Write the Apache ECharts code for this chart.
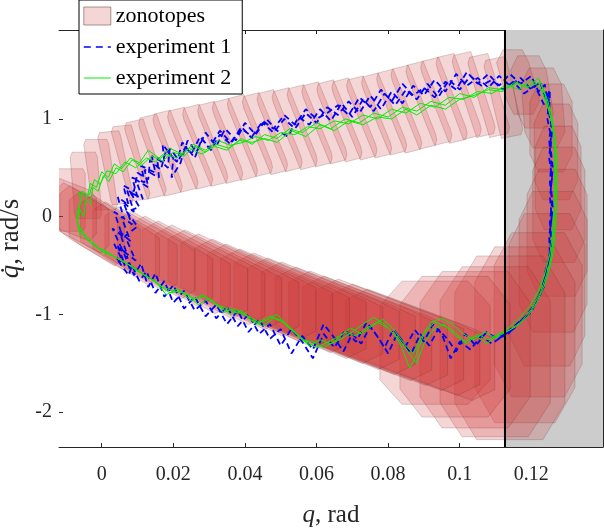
<!DOCTYPE html>
<html><head><meta charset="utf-8">
<script src="https://cdn.jsdelivr.net/npm/echarts@6/dist/echarts.min.js"></script>
<style>html,body{margin:0;padding:0;background:#fff}#c{width:604px;height:528px}</style>
</head><body><div id="c"></div>
<script>
// ---- axis ticks and limits ----
const xTicks = [0, 0.02, 0.04, 0.06, 0.08, 0.1, 0.12];
const yTicks = [-2, -1, 0, 1];
const xRange = [-0.01193, 0.14003];
const yRange = [-2.357, 1.910];
const limitQ = 0.11265;

// ---- zonotopes: center (q, dq), half-width w, half-height h, shear s, tilt t, corner k ----
// upper branch
const zonoQ_up  = [-0.0086,-0.0044,-0.0003,0.0039,0.0081,0.0122,0.0164,0.0206,0.0247,0.0289,0.0331,0.0372,0.0414,0.0456,0.0497,0.0539,0.0581,0.0622,0.0664,0.0706,0.0747,0.0789,0.0831,0.0872,0.0914,0.0956,0.0997,0.1039,0.1081,0.1122];
const zonoDq_up = [0.17,0.32,0.43,0.50,0.55,0.59,0.63,0.67,0.70,0.73,0.76,0.79,0.83,0.85,0.88,0.90,0.93,0.96,0.98,1.00,1.02,1.05,1.08,1.12,1.16,1.19,1.23,1.25,1.24,1.22];
const zonoW_up  = [0.0040,0.0038,0.0035,0.0032,0.0030,0.0028,0.0027,0.0026,0.0025,0.0025,0.0025,0.0025,0.0025,0.0025,0.0025,0.0025,0.0025,0.0025,0.0025,0.0025,0.0025,0.0025,0.0025,0.0026,0.0026,0.0027,0.0027,0.0028,0.0030,0.0032];
const zonoH_up  = [0.32,0.34,0.36,0.37,0.38,0.39,0.40,0.40,0.40,0.40,0.40,0.40,0.40,0.40,0.40,0.40,0.40,0.40,0.40,0.40,0.40,0.40,0.41,0.41,0.41,0.42,0.42,0.42,0.41,0.40];
const zonoS_up  = [0,-0.0006,-0.0012,-0.0018,-0.0024,-0.0030,-0.0034,-0.0037,-0.0038,-0.0038,-0.0038,-0.0038,-0.0038,-0.0038,-0.0038,-0.0038,-0.0038,-0.0038,-0.0038,-0.0038,-0.0038,-0.0038,-0.0038,-0.0038,-0.0038,-0.0038,-0.0036,-0.0032,-0.0028,-0.0022];
const zonoT_up  = [0,0,0,0.01,0.01,0.02,0.02,0.02,0.02,0.02,0.02,0.02,0.02,0.02,0.02,0.02,0.02,0.02,0.02,0.02,0.02,0.02,0.02,0.02,0.02,0.02,0.02,0.02,0.02,0.02];
const zonoK_up  = [0.15,0.15,0.15,0.15,0.15,0.15,0.15,0.15,0.15,0.15,0.15,0.15,0.15,0.15,0.15,0.15,0.15,0.15,0.15,0.15,0.15,0.15,0.15,0.15,0.15,0.15,0.15,0.15,0.15,0.15];
// right turn
const zonoQ_rt  = [0.1163,0.1202,0.1233,0.1255,0.1269,0.1275,0.1277,0.1272,0.1261,0.1244,0.1219,0.1182,0.1140];
const zonoDq_rt = [1.378,1.276,1.112,0.908,0.663,0.397,0.121,-0.165,-0.462,-0.749,-1.004,-1.209,-1.342];
const zonoW_rt  = [0.0045,0.0050,0.0056,0.0059,0.0061,0.0064,0.0073,0.0084,0.0095,0.0106,0.0123,0.0140,0.0154];
const zonoH_rt  = [0.33,0.37,0.41,0.45,0.49,0.53,0.59,0.65,0.72,0.78,0.84,0.90,0.94];
const zonoS_rt  = [-0.0015,-0.0010,-0.0005,0,0,0,0,0,0,0,0,0,0];
const zonoT_rt  = [0,0,0,0,0,0,0,0,0,0,0,0,0];
const zonoK_rt  = [0.4,0.4,0.4,0.4,0.4,0.4,0.4,0.4,0.4,0.4,0.4,0.4,0.4];
// lower branch
const zonoQ_lo  = [0.1099,0.1043,0.0987,0.0931,0.0889,0.0847,0.0805,0.0763,0.0722,0.0680,0.0638,0.0596,0.0554,0.0512,0.0470,0.0428,0.0386,0.0344,0.0303,0.0261,0.0219,0.0177,0.0135,0.0093,0.0051,0.0009,-0.0027,-0.0055,-0.0075];
const zonoDq_lo = [-1.382,-1.362,-1.331,-1.290,-1.311,-1.260,-1.209,-1.168,-1.117,-1.066,-1.014,-0.963,-0.912,-0.861,-0.810,-0.749,-0.697,-0.646,-0.595,-0.544,-0.493,-0.432,-0.370,-0.309,-0.237,-0.166,-0.094,-0.012,0.070];
const zonoW_lo  = [0.0154,0.0154,0.0154,0.0154,0.0209,0.0209,0.0206,0.0203,0.0200,0.0196,0.0193,0.0189,0.0185,0.0180,0.0175,0.0170,0.0165,0.0159,0.0153,0.0147,0.0140,0.0133,0.0126,0.0118,0.0110,0.0100,0.0090,0.0075,0.0060];
const zonoH_lo  = [0.87,0.80,0.72,0.63,0.37,0.37,0.37,0.36,0.36,0.35,0.35,0.34,0.34,0.33,0.33,0.32,0.32,0.31,0.31,0.30,0.30,0.29,0.29,0.28,0.28,0.27,0.27,0.26,0.26];
const zonoS_lo  = [0,0,0,0,0,0,0,0,0,0,0,0,0,0,0,0,0,0,0,0,0,0,0,0,0,0,0,0,0];
const zonoT_lo  = [0,0,0,0,-0.20,-0.20,-0.20,-0.20,-0.20,-0.20,-0.20,-0.20,-0.20,-0.20,-0.20,-0.20,-0.20,-0.20,-0.20,-0.20,-0.20,-0.20,-0.18,-0.18,-0.18,-0.15,-0.14,-0.10,-0.06];
const zonoK_lo  = [0.4,0.4,0.4,0.4,0.3,0.3,0.3,0.3,0.3,0.3,0.3,0.3,0.3,0.3,0.3,0.3,0.3,0.3,0.3,0.3,0.3,0.3,0.3,0.3,0.3,0.3,0.3,0.3,0.3];

// ---- experiment 2 (green), three loops ----
const exp2LoopA = [[-0.0060,-0.20],[-0.0068,-0.05],[-0.0062,0.08],[-0.0050,0.00],[-0.0045,0.18],[-0.0030,0.12],[-0.0025,0.30],[-0.0010,0.26],[0.0005,0.42],[0.0020,0.36],[0.0040,0.50],[0.0060,0.46],[0.0085,0.58],[0.0110,0.52],[0.0140,0.62],[0.0170,0.57],[0.0200,0.66],[0.0230,0.62],[0.0260,0.72],[0.0290,0.66],[0.0320,0.74],[0.0355,0.70],[0.0390,0.80],[0.0420,0.74],[0.0455,0.84],[0.0490,0.80],[0.0525,0.90],[0.0560,0.86],[0.0600,0.96],[0.0640,0.90],[0.0680,1.00],[0.0720,0.96],[0.0760,1.06],[0.0800,1.02],[0.0840,1.12],[0.0880,1.08],[0.0920,1.18],[0.0960,1.14],[0.1000,1.26],[0.1040,1.22],[0.1080,1.32],[0.1120,1.30],[0.1160,1.36],[0.1195,1.33],[0.1225,1.38],[0.1245,1.20],[0.1258,1.02],[0.1265,0.80],[0.1268,0.55],[0.1267,0.30],[0.1265,0.05],[0.1262,-0.20],[0.1255,-0.42],[0.1242,-0.60],[0.1225,-0.78],[0.1200,-0.95],[0.1170,-1.08],[0.1140,-1.16],[0.1110,-1.20],[0.1080,-1.26],[0.1050,-1.20],[0.1020,-1.30],[0.0990,-1.22],[0.0960,-1.12],[0.0930,-1.08],[0.0900,-1.20],[0.0875,-1.45],[0.0860,-1.55],[0.0840,-1.35],[0.0820,-1.22],[0.0790,-1.10],[0.0760,-1.03],[0.0730,-1.10],[0.0700,-1.18],[0.0670,-1.25],[0.0640,-1.30],[0.0610,-1.26],[0.0580,-1.32],[0.0550,-1.22],[0.0520,-1.12],[0.0490,-1.00],[0.0460,-1.06],[0.0430,-1.10],[0.0400,-1.00],[0.0370,-0.94],[0.0340,-0.98],[0.0310,-0.86],[0.0280,-0.80],[0.0250,-0.86],[0.0220,-0.76],[0.0190,-0.78],[0.0160,-0.70],[0.0130,-0.62],[0.0100,-0.56],[0.0070,-0.48],[0.0040,-0.42],[0.0010,-0.35],[-0.0020,-0.30],[-0.0045,-0.22],[-0.0065,-0.10]];
const exp2LoopB = [[-0.0070,0.02],[-0.0058,0.16],[-0.0064,0.25],[-0.0040,0.20],[-0.0032,0.34],[-0.0015,0.30],[0.0000,0.46],[0.0018,0.40],[0.0035,0.54],[0.0055,0.49],[0.0080,0.60],[0.0105,0.55],[0.0130,0.68],[0.0160,0.60],[0.0190,0.70],[0.0225,0.64],[0.0255,0.74],[0.0290,0.68],[0.0325,0.78],[0.0360,0.73],[0.0395,0.76],[0.0430,0.82],[0.0465,0.78],[0.0500,0.86],[0.0540,0.84],[0.0575,0.92],[0.0610,0.90],[0.0650,0.98],[0.0690,0.95],[0.0730,1.04],[0.0770,1.00],[0.0810,1.10],[0.0850,1.06],[0.0890,1.16],[0.0930,1.12],[0.0970,1.22],[0.1010,1.20],[0.1050,1.28],[0.1090,1.26],[0.1130,1.35],[0.1165,1.30],[0.1200,1.40],[0.1228,1.30],[0.1248,1.10],[0.1262,0.90],[0.1270,0.65],[0.1272,0.40],[0.1270,0.15],[0.1268,-0.10],[0.1262,-0.35],[0.1250,-0.55],[0.1235,-0.72],[0.1215,-0.88],[0.1190,-1.02],[0.1160,-1.12],[0.1130,-1.18],[0.1100,-1.24],[0.1070,-1.18],[0.1040,-1.26],[0.1010,-1.20],[0.0980,-1.10],[0.0950,-1.04],[0.0920,-1.08],[0.0895,-1.22],[0.0870,-1.40],[0.0845,-1.30],[0.0815,-1.15],[0.0785,-1.05],[0.0755,-1.12],[0.0725,-1.20],[0.0695,-1.14],[0.0665,-1.22],[0.0635,-1.28],[0.0600,-1.34],[0.0570,-1.28],[0.0540,-1.18],[0.0510,-1.08],[0.0480,-1.04],[0.0450,-1.12],[0.0420,-1.06],[0.0390,-0.96],[0.0360,-1.00],[0.0330,-0.92],[0.0300,-0.84],[0.0270,-0.90],[0.0240,-0.80],[0.0210,-0.74],[0.0180,-0.80],[0.0150,-0.66],[0.0120,-0.60],[0.0090,-0.52],[0.0060,-0.46],[0.0030,-0.40],[0.0000,-0.36],[-0.0025,-0.26],[-0.0050,-0.18],[-0.0068,-0.06]];
const exp2LoopC = [[-0.0062,0.10],[-0.0055,0.26],[-0.0035,0.22],[-0.0020,0.38],[-0.0005,0.33],[0.0015,0.47],[0.0040,0.44],[0.0065,0.56],[0.0095,0.50],[0.0125,0.60],[0.0150,0.56],[0.0180,0.64],[0.0210,0.60],[0.0245,0.70],[0.0280,0.64],[0.0315,0.72],[0.0350,0.68],[0.0385,0.78],[0.0420,0.76],[0.0455,0.80],[0.0490,0.76],[0.0530,0.88],[0.0570,0.82],[0.0610,0.94],[0.0650,0.88],[0.0690,0.98],[0.0730,0.94],[0.0770,1.02],[0.0810,1.00],[0.0850,1.10],[0.0880,1.04],[0.0920,1.14],[0.0960,1.10],[0.1000,1.20],[0.1040,1.24],[0.1080,1.30],[0.1120,1.28],[0.1155,1.38],[0.1190,1.32],[0.1220,1.42],[0.1238,1.25],[0.1252,1.05],[0.1262,0.85],[0.1266,0.60],[0.1266,0.35],[0.1264,0.10],[0.1260,-0.15],[0.1252,-0.38],[0.1238,-0.58],[0.1220,-0.76],[0.1195,-0.92],[0.1165,-1.05],[0.1135,-1.14],[0.1105,-1.22],[0.1075,-1.30],[0.1045,-1.22],[0.1015,-1.28],[0.0985,-1.18],[0.0955,-1.10],[0.0925,-1.16],[0.0900,-1.30],[0.0880,-1.50],[0.0855,-1.38],[0.0830,-1.25],[0.0800,-1.14],[0.0770,-1.08],[0.0740,-1.14],[0.0710,-1.22],[0.0680,-1.18],[0.0650,-1.28],[0.0620,-1.34],[0.0590,-1.28],[0.0560,-1.26],[0.0530,-1.16],[0.0500,-1.06],[0.0470,-1.02],[0.0440,-1.08],[0.0410,-1.02],[0.0380,-0.98],[0.0350,-0.94],[0.0320,-0.90],[0.0290,-0.82],[0.0260,-0.84],[0.0230,-0.78],[0.0200,-0.76],[0.0170,-0.72],[0.0140,-0.64],[0.0110,-0.58],[0.0080,-0.50],[0.0050,-0.44],[0.0020,-0.38],[-0.0010,-0.32],[-0.0040,-0.24],[-0.0060,-0.14]];

// ---- experiment 1 (blue dashed), three loops ----
const exp1LoopA = [[0.0060,-0.45],[0.0045,-0.30],[0.0070,-0.38],[0.0050,-0.15],[0.0080,-0.25],[0.0055,0.00],[0.0085,-0.08],[0.0060,0.15],[0.0090,0.05],[0.0070,0.28],[0.0100,0.20],[0.0085,0.40],[0.0120,0.35],[0.0110,0.52],[0.0150,0.45],[0.0140,0.62],[0.0175,0.55],[0.0170,0.74],[0.0200,0.60],[0.0195,0.40],[0.0220,0.55],[0.0240,0.78],[0.0265,0.66],[0.0290,0.86],[0.0320,0.72],[0.0345,0.90],[0.0375,0.78],[0.0400,0.96],[0.0430,0.84],[0.0460,1.00],[0.0490,0.88],[0.0520,0.82],[0.0550,1.02],[0.0580,0.94],[0.0610,1.10],[0.0640,0.98],[0.0670,1.16],[0.0700,1.02],[0.0730,1.20],[0.0760,1.08],[0.0790,1.26],[0.0820,1.14],[0.0850,1.30],[0.0880,1.20],[0.0910,1.36],[0.0940,1.22],[0.0970,1.40],[0.1000,1.30],[0.1030,1.44],[0.1060,1.34],[0.1090,1.40],[0.1120,1.30],[0.1150,1.38],[0.1180,1.26],[0.1210,1.34],[0.1235,1.15],[0.1250,1.25],[0.1245,1.00],[0.1255,0.82],[0.1250,0.60],[0.1258,0.40],[0.1252,0.20],[0.1257,0.00],[0.1250,-0.20],[0.1252,-0.40],[0.1240,-0.55],[0.1235,-0.72],[0.1215,-0.85],[0.1200,-0.98],[0.1175,-1.05],[0.1150,-1.15],[0.1120,-1.22],[0.1090,-1.30],[0.1060,-1.22],[0.1030,-1.36],[0.1000,-1.28],[0.0975,-1.45],[0.0950,-1.20],[0.0925,-1.10],[0.0900,-1.28],[0.0875,-1.16],[0.0850,-1.32],[0.0825,-1.20],[0.0800,-1.40],[0.0775,-1.25],[0.0750,-1.12],[0.0725,-1.30],[0.0700,-1.20],[0.0675,-1.38],[0.0650,-1.24],[0.0620,-1.10],[0.0590,-1.36],[0.0560,-1.22],[0.0530,-1.40],[0.0500,-1.15],[0.0470,-1.25],[0.0440,-1.05],[0.0410,-1.18],[0.0380,-0.96],[0.0350,-1.10],[0.0320,-0.90],[0.0290,-1.02],[0.0260,-0.82],[0.0230,-0.94],[0.0200,-0.70],[0.0175,-0.82],[0.0150,-0.58],[0.0130,-0.72],[0.0110,-0.48],[0.0090,-0.60],[0.0070,-0.40]];
const exp1LoopB = [[0.0080,-0.55],[0.0060,-0.35],[0.0095,-0.45],[0.0065,-0.20],[0.0100,-0.10],[0.0070,0.05],[0.0105,0.10],[0.0080,0.25],[0.0115,0.18],[0.0095,0.38],[0.0130,0.30],[0.0120,0.48],[0.0160,0.40],[0.0155,0.60],[0.0185,0.50],[0.0190,0.70],[0.0215,0.58],[0.0235,0.72],[0.0260,0.60],[0.0280,0.80],[0.0305,0.68],[0.0330,0.84],[0.0360,0.74],[0.0390,0.92],[0.0420,0.80],[0.0450,0.96],[0.0480,0.86],[0.0510,1.00],[0.0540,0.90],[0.0570,1.06],[0.0600,0.96],[0.0630,1.12],[0.0660,1.04],[0.0690,1.18],[0.0720,1.06],[0.0750,1.24],[0.0780,1.10],[0.0810,1.28],[0.0840,1.16],[0.0870,1.34],[0.0900,1.24],[0.0930,1.40],[0.0960,1.28],[0.0990,1.46],[0.1020,1.34],[0.1050,1.42],[0.1080,1.32],[0.1110,1.44],[0.1140,1.34],[0.1170,1.42],[0.1200,1.30],[0.1225,1.38],[0.1240,1.20],[0.1252,1.30],[0.1250,1.05],[0.1258,0.90],[0.1254,0.70],[0.1260,0.50],[0.1255,0.30],[0.1260,0.10],[0.1254,-0.10],[0.1256,-0.30],[0.1248,-0.48],[0.1238,-0.65],[0.1225,-0.80],[0.1205,-0.92],[0.1185,-1.02],[0.1160,-1.10],[0.1135,-1.20],[0.1105,-1.25],[0.1075,-1.18],[0.1045,-1.32],[0.1015,-1.20],[0.0990,-1.38],[0.0965,-1.25],[0.0940,-1.15],[0.0915,-1.32],[0.0890,-1.20],[0.0865,-1.40],[0.0840,-1.28],[0.0815,-1.15],[0.0790,-1.34],[0.0765,-1.20],[0.0740,-1.08],[0.0710,-1.28],[0.0680,-1.16],[0.0650,-1.34],[0.0620,-1.20],[0.0590,-1.45],[0.0560,-1.28],[0.0530,-1.15],[0.0500,-1.32],[0.0470,-1.10],[0.0440,-1.20],[0.0410,-1.00],[0.0380,-1.12],[0.0350,-0.92],[0.0320,-1.04],[0.0290,-0.86],[0.0260,-0.96],[0.0230,-0.76],[0.0200,-0.88],[0.0175,-0.66],[0.0150,-0.78],[0.0125,-0.56],[0.0105,-0.66],[0.0085,-0.50]];
const exp1LoopC = [[0.0075,-0.60],[0.0040,-0.42],[0.0065,-0.50],[0.0035,-0.28],[0.0060,-0.36],[0.0030,-0.12],[0.0058,-0.20],[0.0035,0.05],[0.0062,-0.02],[0.0045,0.20],[0.0075,0.12],[0.0060,0.32],[0.0090,0.26],[0.0100,0.45],[0.0130,0.38],[0.0135,0.58],[0.0165,0.48],[0.0180,0.68],[0.0210,0.56],[0.0225,0.76],[0.0250,0.64],[0.0275,0.82],[0.0300,0.70],[0.0330,0.88],[0.0360,0.76],[0.0390,0.90],[0.0420,0.82],[0.0450,0.98],[0.0480,0.90],[0.0510,1.04],[0.0540,0.94],[0.0570,1.10],[0.0600,1.00],[0.0630,1.06],[0.0660,1.14],[0.0690,1.04],[0.0720,1.22],[0.0750,1.12],[0.0780,1.30],[0.0810,1.18],[0.0840,1.36],[0.0870,1.24],[0.0900,1.32],[0.0930,1.22],[0.0960,1.38],[0.0990,1.30],[0.1020,1.48],[0.1050,1.36],[0.1080,1.46],[0.1110,1.34],[0.1140,1.46],[0.1170,1.36],[0.1200,1.44],[0.1220,1.28],[0.1238,1.35],[0.1248,1.12],[0.1256,0.95],[0.1250,0.78],[0.1256,0.55],[0.1252,0.35],[0.1258,0.15],[0.1252,-0.05],[0.1255,-0.25],[0.1250,-0.42],[0.1240,-0.60],[0.1228,-0.75],[0.1210,-0.90],[0.1190,-1.00],[0.1165,-1.08],[0.1140,-1.16],[0.1112,-1.22]];

// ---- build ----
const FONT = 'Liberation Serif';
const zonoQ = zonoQ_up.concat(zonoQ_rt, zonoQ_lo);
const zonoDq = zonoDq_up.concat(zonoDq_rt, zonoDq_lo);
const zonoW = zonoW_up.concat(zonoW_rt, zonoW_lo);
const zonoH = zonoH_up.concat(zonoH_rt, zonoH_lo);
const zonoS = zonoS_up.concat(zonoS_rt, zonoS_lo);
const zonoT = zonoT_up.concat(zonoT_rt, zonoT_lo);
const zonoK = zonoK_up.concat(zonoK_rt, zonoK_lo);
const zonoData = zonoQ.map((q, i) => [q, zonoDq[i], zonoW[i], zonoH[i], zonoS[i], zonoT[i], zonoK[i]]);
const exp1 = exp1LoopA.concat(exp1LoopB, exp1LoopC);
const exp2 = exp2LoopA.concat(exp2LoopB, exp2LoopC);

function zonoItem(params, api) {
  const cq = api.value(0), cd = api.value(1), w = api.value(2), h = api.value(3);
  const s = api.value(4), t = api.value(5), k = api.value(6);
  let gens = [[w * (1 - k), t], [s, h * (1 - k)]];
  if (k > 0) { gens.push([w * k / 2, h * k / 2]); gens.push([w * k / 2, -h * k / 2]); }
  gens = gens.map(g => (g[1] < 0 || (g[1] === 0 && g[0] < 0)) ? [-g[0], -g[1]] : g);
  gens.sort((a, b) => Math.atan2(a[1], a[0]) - Math.atan2(b[1], b[0]));
  let p = [cq, cd];
  gens.forEach(g => { p = [p[0] - g[0], p[1] - g[1]]; });
  const pts = [];
  gens.forEach(g => { pts.push(api.coord(p)); p = [p[0] + 2 * g[0], p[1] + 2 * g[1]]; });
  gens.forEach(g => { pts.push(api.coord(p)); p = [p[0] - 2 * g[0], p[1] - 2 * g[1]]; });
  return {
    type: 'polygon',
    shape: { points: pts },
    style: { fill: 'rgba(204,51,51,0.2)', stroke: 'rgba(90,40,40,0.3)', lineWidth: 0.7 }
  };
}

const axisColor = '#262626';
const legendRich = { t: { fontFamily: FONT, fontSize: 22, color: '#000000', lineHeight: 18 } };
const chart = echarts.init(document.getElementById('c'), null, { renderer: 'canvas' });
chart.setOption({
  animation: false,
  backgroundColor: '#ffffff',
  textStyle: { fontFamily: FONT },
  grid: { left: 59, right: 1, top: 30, bottom: 81, containLabel: false, outerBoundsMode: 'none' },
  legend: {
    orient: 'vertical', left: 79, top: 0,
    backgroundColor: '#ffffff', borderColor: '#000000', borderWidth: 1,
    padding: [5, 11, 5, 4], itemGap: 9, itemWidth: 27, itemHeight: 18,
    formatter: name => '{t|' + name + '}',
    textStyle: { fontFamily: FONT, fontSize: 22, color: '#000000', lineHeight: 18, rich: legendRich },
    data: [
      { name: 'zonotopes', icon: 'rect',
        itemStyle: { color: 'rgba(204,51,51,0.2)', borderColor: 'rgba(120,80,80,0.6)', borderWidth: 1 } },
      { name: 'experiment 1', itemStyle: { opacity: 0 },
        lineStyle: { color: '#0000ff', width: 1.6, type: [7, 5] } },
      { name: 'experiment 2', itemStyle: { opacity: 0 },
        lineStyle: { color: '#00ee00', width: 1 } }
    ]
  },
  xAxis: [{
    type: 'value', min: xRange[0], max: xRange[1], position: 'bottom',
    name: '{i|q}, rad', nameLocation: 'middle', nameGap: 56,
    nameTextStyle: { fontFamily: FONT, fontSize: 25, color: axisColor,
      rich: { i: { fontFamily: FONT, fontSize: 25, fontStyle: 'italic', color: axisColor } } },
    axisLine: { show: true, onZero: false, lineStyle: { color: axisColor, width: 1 } },
    axisTick: { show: true, inside: true, length: 4, customValues: xTicks, lineStyle: { color: axisColor } },
    axisLabel: { show: true, customValues: xTicks, fontFamily: FONT, fontSize: 20, color: axisColor, margin: 18,
      formatter: v => String(v) },
    splitLine: { show: false }
  }, {
    type: 'value', min: xRange[0], max: xRange[1], position: 'top',
    axisLine: { show: true, onZero: false, lineStyle: { color: axisColor, width: 1 } },
    axisTick: { show: true, inside: true, length: 4, customValues: xTicks, lineStyle: { color: axisColor } },
    axisLabel: { show: false }, splitLine: { show: false }
  }],
  yAxis: [{
    type: 'value', min: yRange[0], max: yRange[1], position: 'left',
    name: '{i|q\u0307}, rad/s', nameLocation: 'middle', nameGap: 32, nameRotate: 90,
    nameTextStyle: { fontFamily: FONT, fontSize: 27, color: axisColor,
      rich: { i: { fontFamily: FONT, fontSize: 27, fontStyle: 'italic', color: axisColor } } },
    axisLine: { show: false, onZero: false },
    axisTick: { show: true, inside: true, length: 4, customValues: yTicks, lineStyle: { color: axisColor } },
    axisLabel: { show: true, customValues: yTicks, fontFamily: FONT, fontSize: 20, color: axisColor, margin: 7,
      formatter: v => String(v) },
    splitLine: { show: false }
  }, {
    type: 'value', min: yRange[0], max: yRange[1], position: 'right',
    axisLine: { show: true, onZero: false, lineStyle: { color: axisColor, width: 1 } },
    axisTick: { show: true, inside: true, length: 4, customValues: yTicks, lineStyle: { color: axisColor } },
    axisLabel: { show: false }, splitLine: { show: false }
  }],
  series: [
    {
      name: 'unsafe', type: 'line', data: [[limitQ, yRange[0]]], symbol: 'none', z: 1, silent: true,
      lineStyle: { opacity: 0 },
      markArea: { silent: true, itemStyle: { color: '#cccccc', opacity: 1 },
        data: [[{ xAxis: limitQ, yAxis: yRange[0] }, { xAxis: xRange[1], yAxis: yRange[1] }]] }
    },
    {
      name: 'zonotopes', type: 'custom', renderItem: zonoItem, data: zonoData, z: 2, clip: true,
      encode: { x: 0, y: 1 }, itemStyle: { color: 'rgba(204,51,51,0.2)' }, silent: true
    },
    {
      name: 'experiment 1', type: 'line', data: exp1, symbol: 'none', showSymbol: false, z: 3, clip: true,
      lineStyle: { color: '#0000ff', width: 1.8, type: [6, 4] }, itemStyle: { color: '#0000ff' }
    },
    {
      name: 'experiment 2', type: 'line', data: exp2, symbol: 'none', showSymbol: false, z: 4, clip: true,
      lineStyle: { color: '#00ee00', width: 1 }, itemStyle: { color: '#00ee00' }
    },
    {
      name: 'limit', type: 'line', data: [[limitQ, yRange[0]], [limitQ, yRange[1]]], symbol: 'none', z: 10, silent: true,
      lineStyle: { color: '#000000', width: 2, type: 'solid' }
    }
  ]
});
</script>
</body></html>
